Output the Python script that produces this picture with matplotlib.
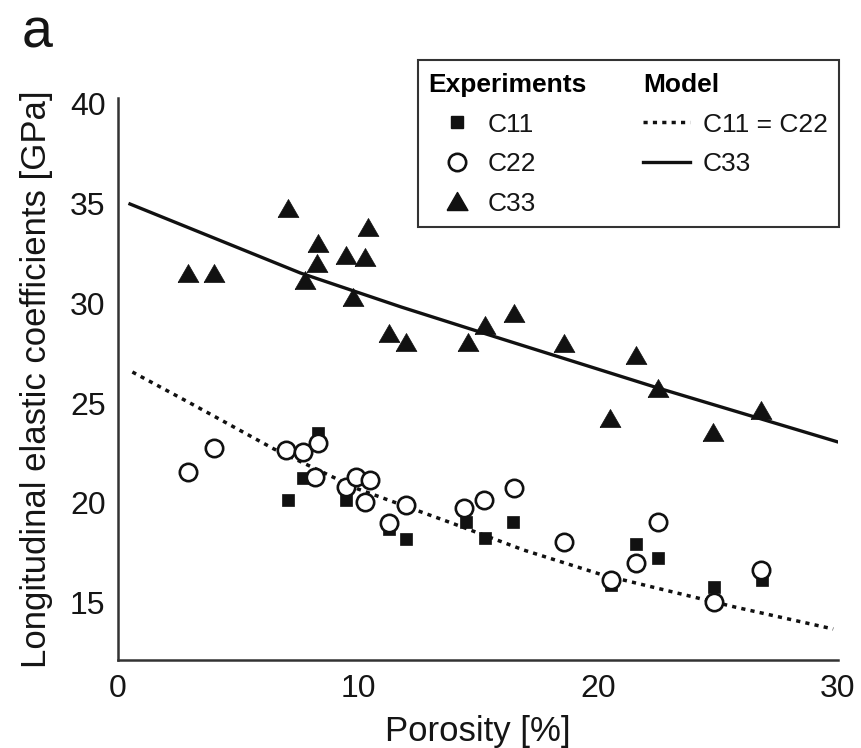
import matplotlib
matplotlib.use("Agg")
import matplotlib.pyplot as plt
from matplotlib.lines import Line2D
from matplotlib.patches import Rectangle

plt.rcParams["font.family"] = ["Liberation Sans", "DejaVu Sans"]

# experiments (porosity %, GPa)
c11_x = [7.1, 7.7, 8.35, 9.5, 11.3, 12.0, 14.5, 15.3, 16.45, 20.55, 21.6, 22.5, 24.85, 26.85]
c11_y = [20.15, 21.25, 23.5, 20.15, 18.7, 18.2, 19.05, 18.25, 19.05, 15.9, 17.95, 17.25, 15.8, 16.15]

c22_x = [2.9, 4.0, 7.0, 7.7, 8.2, 8.35, 9.5, 9.9, 10.3, 10.5, 11.3, 12.0, 14.4, 15.25,
         16.5, 18.6, 20.55, 21.6, 22.5, 24.85, 26.8]
c22_y = [21.55, 22.75, 22.65, 22.55, 21.3, 23.0, 20.8, 21.3, 20.05, 21.15, 19.0, 19.9, 19.75, 20.15,
         20.75, 18.05, 16.15, 17.0, 19.05, 15.05, 16.65]

c33_x = [2.9, 4.0, 7.1, 7.8, 8.3, 8.35, 9.5, 9.8, 10.3, 10.4, 11.3, 12.0, 14.6, 15.3,
         16.5, 18.6, 20.5, 21.6, 22.5, 24.8, 26.8]
c33_y = [31.5, 31.5, 34.75, 31.15, 32.0, 33.0, 32.4, 30.3, 32.3, 33.8, 28.5, 28.05, 28.05, 28.9,
         29.5, 28.0, 24.25, 27.4, 25.75, 23.55, 24.65]

# model curves
model12_x = [0.6, 3.0, 6.5, 10.0, 13.9, 16.9, 20.2, 25.7, 29.8]
model12_y = [26.55, 25.0, 22.7, 20.7, 19.0, 17.65, 16.4, 14.8, 13.7]

model33_x = [0.5, 4.0, 7.6, 11.8, 16.0, 22.5, 30.0]
model33_y = [34.95, 33.25, 31.5, 29.8, 28.2, 25.75, 23.05]

x_ticks = [0, 10, 20, 30]
y_ticks = [15, 20, 25, 30, 35, 40]

tri = [(-1, -0.866), (1, -0.866), (0, 0.866), (-1, -0.866)]
ink = "#111111"
axcol = "#333333"
txt = "#151515"

fig = plt.figure(figsize=(8.61, 7.48), dpi=100)
ax = fig.add_axes([118 / 861, 1 - 660 / 748, 720 / 861, 562 / 748])

ax.plot(model33_x, model33_y, color=ink, lw=2.4, zorder=2)
ax.plot(model12_x, model12_y, color=ink, lw=2.5, ls=(0, (1.2, 1.5)), zorder=2)
ax.plot(c11_x, c11_y, ls="none", marker="s", ms=8, mfc=ink, mec=ink, mew=0.5, zorder=3)
ax.plot(c22_x, c22_y, ls="none", marker="o", ms=12.5, mfc="white", mec=ink, mew=1.9, zorder=4)
ax.plot(c33_x, c33_y, ls="none", marker=tri, ms=15, mfc=ink, mec=ink, mew=0.5, zorder=5)

ax.set_xlim(0, 30)
ax.set_ylim(12.15, 40.25)
ax.set_xticks(x_ticks)
ax.set_yticks(y_ticks)
ax.tick_params(length=0, labelsize=23, colors=txt)
ax.tick_params(axis="x", pad=10)
ax.tick_params(axis="y", pad=9)
for s in ["top", "right"]:
    ax.spines[s].set_visible(False)
for s in ["left", "bottom"]:
    ax.spines[s].set_color(axcol)
    ax.spines[s].set_linewidth(1.8)

ax.set_xlabel("Porosity [%]", fontsize=25, color=txt, labelpad=8)
ax.set_ylabel("Longitudinal elastic coefficients [GPa]", fontsize=25, color=txt, labelpad=12)

# legend: two columns with bold headers inside one frame
exp_handles = [
    Line2D([], [], ls="none", marker="s", ms=8, mfc=ink, mec=ink),
    Line2D([], [], ls="none", marker="o", ms=12.5, mfc="white", mec=ink, mew=1.9),
    Line2D([], [], ls="none", marker=tri, ms=15, mfc=ink, mec=ink),
]
mod_handles = [
    Line2D([], [], color=ink, lw=2.5, ls=(0, (1.2, 1.5))),
    Line2D([], [], color=ink, lw=2.4),
]
leg_kw = dict(loc="upper left", frameon=False, borderpad=0, borderaxespad=0,
              fontsize=19, labelspacing=0.59, alignment="left", labelcolor=txt,
              title_fontproperties={"weight": "bold", "size": 19})
leg1 = ax.legend(exp_handles, ["C11", "C22", "C33"], title="Experiments",
                 bbox_to_anchor=(0.4306, 1.0445), handlelength=2.2,
                 handletextpad=0.05, **leg_kw)
ax.add_artist(leg1)
leg2 = ax.legend(mod_handles, ["C11 = C22", "C33"], title="Model",
                 bbox_to_anchor=(0.729, 1.0445), handlelength=1.78,
                 handletextpad=0.5, **leg_kw)
ax.add_patch(Rectangle((0.4167, 0.7705), 0.5847, 0.2971, transform=ax.transAxes,
                       fill=False, ec=axcol, lw=1.5, clip_on=False, zorder=6))

fig.text(22 / 861, 1 - 47 / 748, "a", fontsize=40, va="baseline", ha="left", color=txt)

fig.savefig("out.png", dpi=100)
